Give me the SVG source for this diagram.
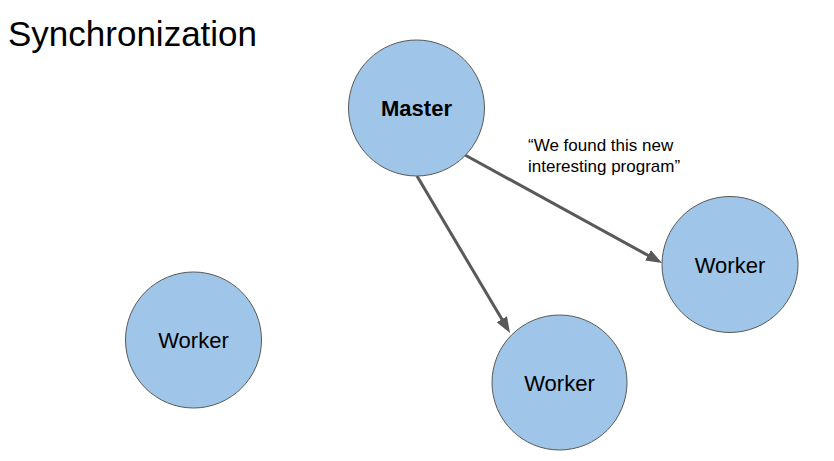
<svg xmlns="http://www.w3.org/2000/svg" width="834" height="461" viewBox="0 0 834 461">
<style>
.node{fill:#9fc5e8;stroke:#595959;stroke-width:1}
.lbl{font-family:"Liberation Sans",Arial,sans-serif;font-size:22px;fill:#000;text-anchor:middle}
.edge{stroke:#595959;stroke-width:3;fill:none}
.note{font-family:"Liberation Sans",Arial,sans-serif;font-size:17px;fill:#000}
</style>
<defs>
<marker id="ah" markerUnits="userSpaceOnUse" markerWidth="16" markerHeight="12" refX="8" refY="6" orient="auto">
<path d="M0,0 L16,6 L0,12 z" fill="#595959"/>
</marker>
</defs>
<rect width="834" height="461" fill="#fff"/>
<text x="8" y="46" font-family="'Liberation Sans',Arial,sans-serif" font-size="35" fill="#000">Synchronization</text>
<g id="connectors">
<line class="edge" x1="417" y1="176" x2="505.9" y2="326.1" marker-end="url(#ah)"/>
<line class="edge" x1="465" y1="155" x2="655" y2="259.2" marker-end="url(#ah)"/>
<text class="note" x="528" y="151">“We found this new</text>
<text class="note" x="528" y="172">interesting program”</text>
</g>
<g id="master">
<circle class="node" cx="416.5" cy="108" r="68"/>
<text class="lbl" x="416.5" y="116" font-weight="bold">Master</text>
</g>
<g id="worker-right">
<circle class="node" cx="730" cy="264.5" r="68"/>
<text class="lbl" x="730" y="272.5">Worker</text>
</g>
<g id="worker-bottom">
<circle class="node" cx="559.5" cy="382.5" r="67.5"/>
<text class="lbl" x="559.5" y="390.5">Worker</text>
</g>
<g id="worker-left">
<circle class="node" cx="193.5" cy="340" r="68"/>
<text class="lbl" x="193.5" y="348">Worker</text>
</g>
</svg>
